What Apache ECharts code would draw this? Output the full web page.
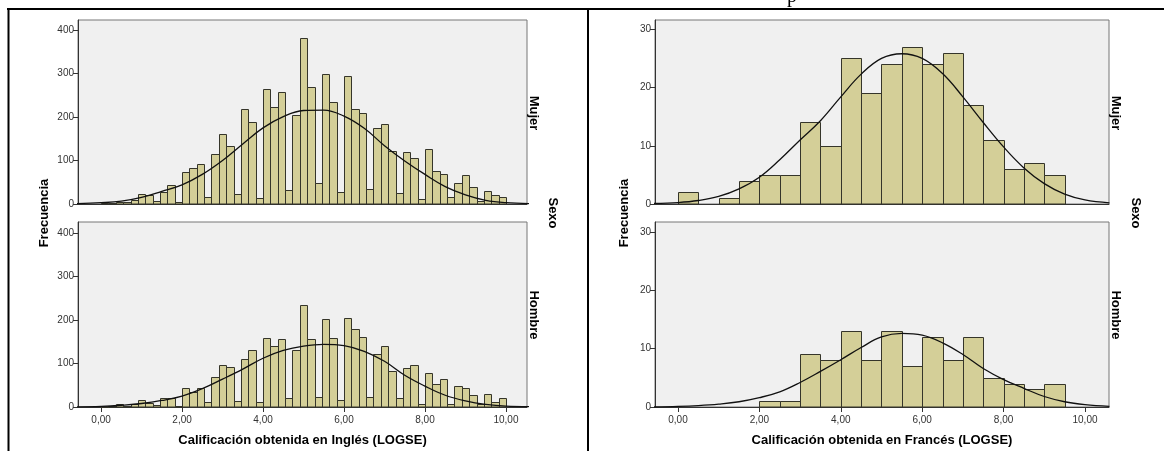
<!DOCTYPE html>
<html><head><meta charset="utf-8">
<script src="https://cdn.jsdelivr.net/npm/echarts@6/dist/echarts.min.js"></script>
<style>html,body{margin:0;padding:0;background:#fff}#c{width:1164px;height:451px}</style>
</head><body><div id="c"></div>
<script>
// ---------- DATA ----------
// English histogram: 55 bins from 0 to 10
const engBinCount = 55;
const engBinWidth = 10 / 55;
const engMujer = [2,3,5,4,9,24,21,6,28,44,4,73,83,92,17,116,160,134,24,218,189,14,265,224,258,32,204,382,270,48,300,235,28,294,218,210,34,175,185,121,26,120,105,11,126,77,70,15,49,66,38,8,31,20,16];
const engHombre = [1,2,7,3,6,15,9,5,21,21,2,43,35,44,11,68,96,93,13,110,130,11,158,141,156,20,130,234,156,24,202,158,15,204,179,161,24,122,139,82,21,90,96,8,79,53,64,8,49,43,27,6,31,12,21];
// French histogram: bins of 0.5 from 0 to 9.5
const freBinStarts = [0,0.5,1,1.5,2,2.5,3,3.5,4,4.5,5,5.5,6,6.5,7,7.5,8,8.5,9];
const freBinWidth = 0.5;
const freMujer = [2,0,1,4,5,5,14,10,25,19,24,27,24,26,17,11,6,7,5];
const freHombre = [0,0,0,0,1,1,9,8,13,8,13,7,12,8,12,5,4,3,4];
// Normal curves
const curveX = [-0.6,0,0.5,1,1.5,2,2.5,3,3.5,4,4.5,5,5.5,6,6.5,7,7.5,8,8.5,9,9.5,10,10.6];
const engMujerCurve = [1,3,6.5,15,29,44,68,100,138,175,201,215,216,202,174,134,99,68,40,21,8.5,3,1];
const engHombreCurve = [0.5,1.5,4,8,15,25,42,64,87,112,130,140,144,141,128,105,73,48,27,14,6,2,1];
const freMujerCurve = [0.1,0.25,0.6,1.3,2.6,4.6,7.6,11,14.3,18.4,22.3,25,25.8,25,22.4,18.4,14,9.8,6.2,3.5,1.7,0.7,0.2];
const freHombreCurve = [0,0.1,0.25,0.5,0.9,1.6,2.6,4.2,6.1,8.1,10.2,12,12.6,12.3,11,9,6.6,4.7,3.2,1.8,0.9,0.4,0.1];
// Ticks and texts
const xTicks = [0,2,4,6,8,10];
const engYTicks = [0,100,200,300,400];
const freYTicks = [0,10,20,30];
const rowLabels = ['Mujer','Hombre'];
const facetTitle = 'Sexo';
const yTitle = 'Frecuencia';
const xTitleEng = 'Calificación obtenida en Inglés (LOGSE)';
const xTitleFre = 'Calificación obtenida en Francés (LOGSE)';

// ---------- BUILD ----------
const FONT = '"Liberation Sans", Arial, sans-serif';
const engEdges = engMujer.map((_, i) => i * engBinWidth);
function histData(starts, width, vals) {
  return vals.map((v, i) => [starts[i], starts[i] + width, v]);
}
function curveData(vals) { return curveX.map((x, i) => [x, vals[i]]); }

const grids = [
  {left:78, top:20, width:449, height:184},
  {left:78, top:222, width:449, height:185},
  {left:655, top:20, width:454, height:184},
  {left:655, top:222, width:454, height:185}
];
const xRanges = [[-0.57,10.52],[-0.57,10.52],[-0.565,10.59],[-0.565,10.59]];
const yMax = [423, 425, 31.6, 31.7];
const yTicksFor = [engYTicks, engYTicks, freYTicks, freYTicks];

const fmtX = v => v.toFixed(2).replace('.', ',');

const xAxes = grids.map((g, i) => {
  const bottom = (i === 1 || i === 3);
  return {
    type:'value', gridIndex:i, min:xRanges[i][0], max:xRanges[i][1],
    splitLine:{show:false},
    axisLine:{show:true, onZero:false, lineStyle:{color:'#333', width:1}},
    axisTick:{show:bottom, customValues:xTicks, length:5, lineStyle:{color:'#333'}},
    axisLabel:{show:bottom, customValues:xTicks, formatter:fmtX, fontSize:10, color:'#333', fontFamily:FONT, margin:8}
  };
});
const yAxes = grids.map((g, i) => ({
  type:'value', gridIndex:i, min:0, max:yMax[i],
  splitLine:{show:false},
  axisLine:{show:true, onZero:false, lineStyle:{color:'#333', width:1}},
  axisTick:{show:true, customValues:yTicksFor[i], length:5, lineStyle:{color:'#333'}},
  axisLabel:{show:true, customValues:yTicksFor[i], fontSize:10, color:'#333', fontFamily:FONT, margin:4}
}));

function renderBar(params, api) {
  const y = api.value(2);
  if (!y) return null;
  const p0 = api.coord([api.value(0), y]);
  const p1 = api.coord([api.value(1), 0]);
  const x0 = Math.round(p0[0]) + 0.5, x1 = Math.round(p1[0]) + 0.5;
  const y0 = Math.round(p0[1]) + 0.5, y1 = Math.round(p1[1]);
  return {type:'rect', shape:{x:x0, y:y0, width:x1 - x0, height:y1 - y0},
    style:{fill:'#d4cf98', stroke:'#35352a', lineWidth:1}};
}

const hists = [
  histData(engEdges, engBinWidth, engMujer),
  histData(engEdges, engBinWidth, engHombre),
  histData(freBinStarts, freBinWidth, freMujer),
  histData(freBinStarts, freBinWidth, freHombre)
];
const curves = [engMujerCurve, engHombreCurve, freMujerCurve, freHombreCurve];

const series = [];
hists.forEach((d, i) => {
  series.push({type:'custom', xAxisIndex:i, yAxisIndex:i, data:d, renderItem:renderBar, silent:true, animation:false});
  series.push({type:'line', xAxisIndex:i, yAxisIndex:i, data:curveData(curves[i]), smooth:0.4, symbol:'none', clip:true,
    lineStyle:{color:'#111', width:1.3}, silent:true, animation:false, z:5});
});

function rotText(text, x, y, rot, size) {
  return {type:'text', x:x, y:y, rotation:rot, silent:true,
    style:{text:text, font:'bold ' + size + 'px ' + FONT, fill:'#000', align:'center', verticalAlign:'middle'}};
}
const graphic = [
  // frame lines
  {type:'line', silent:true, shape:{x1:7, y1:9, x2:1164, y2:9}, style:{stroke:'#000', lineWidth:2}},
  {type:'line', silent:true, shape:{x1:8.5, y1:8, x2:8.5, y2:451}, style:{stroke:'#000', lineWidth:2}},
  {type:'line', silent:true, shape:{x1:588, y1:8, x2:588, y2:451}, style:{stroke:'#000', lineWidth:2}},
  // clipped title glyph
  {type:'text', x:792, y:7, silent:true, style:{text:'p', font:'20px "Liberation Serif", serif', fill:'#000', align:'center', verticalAlign:'bottom'}},
  // y titles
  rotText(yTitle, 44, 213, Math.PI/2, 13),
  rotText(yTitle, 624.5, 213, Math.PI/2, 13),
  // facet labels
  rotText(rowLabels[0], 534, 113, -Math.PI/2, 13),
  rotText(rowLabels[1], 534, 315, -Math.PI/2, 13),
  rotText(facetTitle, 553, 213, -Math.PI/2, 13),
  rotText(rowLabels[0], 1116, 113, -Math.PI/2, 13),
  rotText(rowLabels[1], 1116, 315, -Math.PI/2, 13),
  rotText(facetTitle, 1136, 213, -Math.PI/2, 13),
  // x titles
  rotText(xTitleEng, 302.5, 440, 0, 13),
  rotText(xTitleFre, 882, 440, 0, 13)
];

const chart = echarts.init(document.getElementById('c'), null, {renderer:'canvas'});
chart.setOption({
  animation:false,
  backgroundColor:'#fff',
  grid: grids.map(g => Object.assign({show:true, backgroundColor:'#f0f0f0', borderColor:'#777', borderWidth:1, containLabel:false}, g)),
  xAxis: xAxes,
  yAxis: yAxes,
  series: series,
  graphic: graphic
});
</script></body></html>
